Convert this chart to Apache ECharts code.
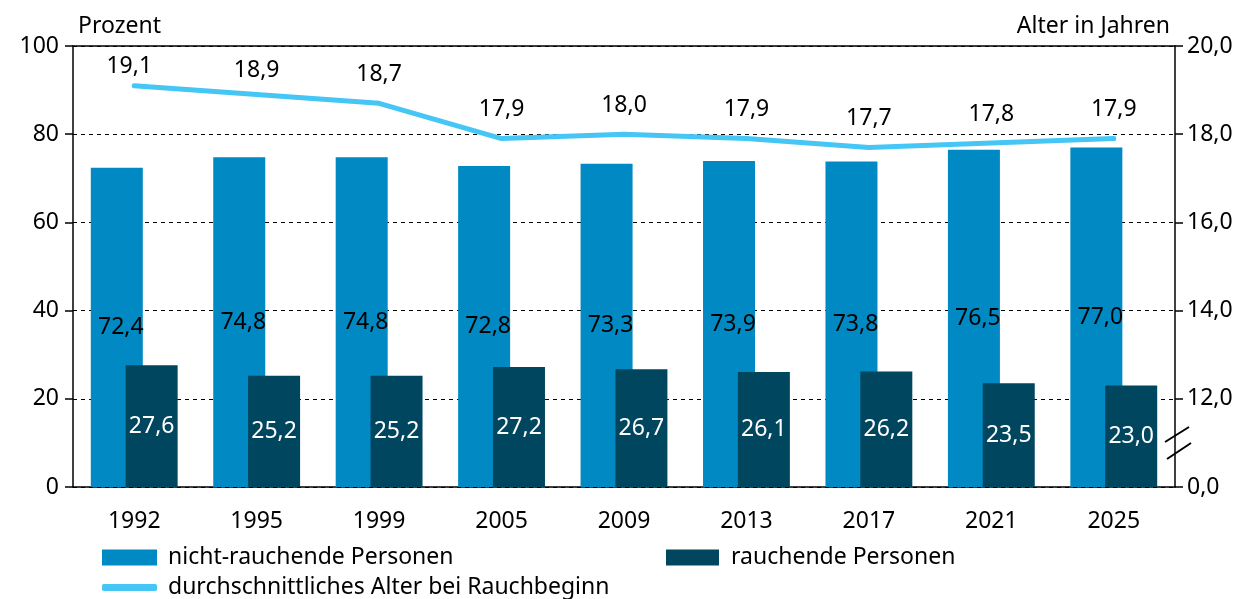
<!DOCTYPE html>
<html>
<head>
<meta charset="utf-8">
<script src="https://cdn.jsdelivr.net/npm/echarts@6/dist/echarts.min.js"></script>
<style>
html,body{margin:0;padding:0;background:#fff;}
#chart{width:1260px;height:599px;}
</style>
</head>
<body>
<div id="chart"></div>
<script>
var years = ['1992', '1995', '1999', '2005', '2009', '2013', '2017', '2021', '2025'];
var nonSmokers = [72.4, 74.8, 74.8, 72.8, 73.3, 73.9, 73.8, 76.5, 77.0];
var smokers = [27.6, 25.2, 25.2, 27.2, 26.7, 26.1, 26.2, 23.5, 23.0];
var ageStart = [19.1, 18.9, 18.7, 17.9, 18.0, 17.9, 17.7, 17.8, 17.9];
var percentTicks = [0, 20, 40, 60, 80, 100];
var ageTicks = ['0,0', '12,0', '14,0', '16,0', '18,0', '20,0'];
// the first two labels sit closer to the line (hand placed in the original)
var ageLabelShift = [[-5, 10], [0, 5], [0, 0], [0, 0], [0, 0], [0, 0], [0, 0], [0, 0], [0, 0]];

var FONT = 'Noto Sans';
var FS = 23;
var fmt = function (v) { return v.toFixed(1).replace('.', ','); };
// right axis is broken: 0..12 shares the first step, then 2 years per 20 %
var toLeft = function (v) { return 20 + (v - 12) * 10; };

var chart = echarts.init(document.getElementById('chart'));
var option = {
    animation: false,
    textStyle: { fontFamily: FONT, color: '#000' },
    grid: { left: 73, right: 85, top: 46, bottom: 112 },
    xAxis: [
        {
            type: 'category',
            data: years,
            axisLine: { lineStyle: { color: '#000', width: 1.5 } },
            axisTick: { show: false },
            axisLabel: { fontSize: FS, color: '#000', margin: 23, fontFamily: FONT }
        },
        {
            type: 'category',
            position: 'top',
            data: years,
            axisLine: { onZero: false, lineStyle: { color: '#000', width: 1.5 } },
            axisTick: { show: false },
            axisLabel: { show: false }
        }
    ],
    yAxis: [
        {
            type: 'value',
            min: 0, max: 100, interval: 20,
            name: 'Prozent',
            nameLocation: 'end',
            nameGap: 8,
            nameTextStyle: { fontSize: FS, color: '#000', align: 'left', padding: [0, 0, 0, 5], fontFamily: FONT },
            axisLine: { show: true, lineStyle: { color: '#000', width: 1.5 } },
            axisTick: { show: true, length: 8, lineStyle: { color: '#000', width: 1.5 } },
            axisLabel: { fontSize: FS, color: '#000', margin: 14, fontFamily: FONT },
            splitLine: { show: true, lineStyle: { color: '#000', type: [4, 4], width: 1 } }
        },
        {
            type: 'value',
            min: 0, max: 100, interval: 20,
            position: 'right',
            name: 'Alter in Jahren',
            nameLocation: 'end',
            nameGap: 8,
            nameTextStyle: { fontSize: FS, color: '#000', align: 'right', padding: [0, 5, 0, 0], fontFamily: FONT },
            axisLine: { show: true, lineStyle: { color: '#000', width: 1.5 } },
            axisTick: { show: true, length: 8, lineStyle: { color: '#000', width: 1.5 } },
            axisLabel: {
                fontSize: FS, color: '#000', margin: 12, fontFamily: FONT,
                formatter: function (v) { return ageTicks[percentTicks.indexOf(v)]; }
            },
            splitLine: { show: false }
        }
    ],
    legend: [
        {
            left: 97, top: 541, itemWidth: 55, itemHeight: 16,
            textStyle: { fontSize: FS, color: '#000', fontFamily: FONT, padding: [0, 0, 0, 6] },
            data: [{ name: 'nicht-rauchende Personen', icon: 'rect' }]
        },
        {
            left: 661, top: 541, itemWidth: 53, itemHeight: 16,
            textStyle: { fontSize: FS, color: '#000', fontFamily: FONT, padding: [0, 0, 0, 7] },
            data: [{ name: 'rauchende Personen', icon: 'rect' }]
        },
        {
            left: 97, top: 571, itemWidth: 55, itemHeight: 7,
            textStyle: { fontSize: FS, color: '#000', fontFamily: FONT, padding: [0, 0, 0, 6] },
            data: [{ name: 'durchschnittliches Alter bei Rauchbeginn', icon: 'roundRect' }]
        }
    ],
    series: [
        {
            name: 'nicht-rauchende Personen',
            type: 'bar',
            data: nonSmokers,
            barWidth: 52,
            barGap: '-33%',
            itemStyle: { color: '#0089C2' },
            label: {
                show: true, position: 'inside', fontSize: FS, color: '#000', fontFamily: FONT,
                offset: [4, 0],
                formatter: function (p) { return fmt(p.value); }
            }
        },
        {
            name: 'rauchende Personen',
            type: 'bar',
            data: smokers,
            barWidth: 52,
            itemStyle: { color: '#00465F' },
            label: {
                show: true, position: 'inside', fontSize: FS, color: '#fff', fontFamily: FONT,
                formatter: function (p) { return fmt(p.value); }
            }
        },
        {
            name: 'durchschnittliches Alter bei Rauchbeginn',
            type: 'line',
            yAxisIndex: 1,
            data: ageStart.map(function (v, i) {
                return { value: toLeft(v), label: { offset: ageLabelShift[i] } };
            }),
            symbol: 'circle',
            symbolSize: 1,
            itemStyle: { color: '#45C6F5' },
            lineStyle: { color: '#45C6F5', width: 5, cap: 'round' },
            label: {
                show: true, position: 'top', distance: 17, fontSize: FS, color: '#000', fontFamily: FONT,
                formatter: function (p) { return fmt(ageStart[p.dataIndex]); }
            },
            z: 5
        }
    ],
    graphic: [
        { type: 'line', shape: { x1: 1165, y1: 442, x2: 1189, y2: 427 }, style: { stroke: '#000', lineWidth: 2 }, z: 10 },
        { type: 'line', shape: { x1: 1167, y1: 459, x2: 1191, y2: 443 }, style: { stroke: '#000', lineWidth: 2 }, z: 10 }
    ]
};
chart.setOption(option);
window.addEventListener('resize', chart.resize);
</script>
</body>
</html>
